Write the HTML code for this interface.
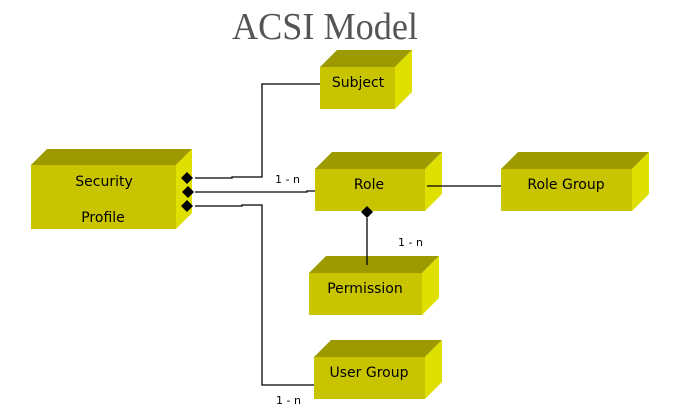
<!DOCTYPE html>
<html><head><style>html,body{margin:0;padding:0;background:#fff}svg{display:block}</style></head>
<body>
<svg width="683" height="416" xmlns="http://www.w3.org/2000/svg" font-family="DejaVu Sans, Liberation Sans, sans-serif" font-size="14">
<text x="325" y="39" text-anchor="middle" font-family="Liberation Serif, serif" font-size="38" fill="#555" textLength="186" lengthAdjust="spacingAndGlyphs">ACSI Model</text>
<g stroke="#000" stroke-width="1.3" fill="none">
<polyline points="195,178 232,178 232,177 262,177 262,84 320,84"/>
<polyline points="195,192 307,192 307,191 315,191"/>
<polyline points="195,206 242,206 242,205 262,205 262,385 314,385"/>
</g>
<g>
<polygon points="31,165 47,149 192,149 176,165" fill="#9c9a00"/>
<polygon points="176,165 192,149 192,213 176,229" fill="#e0e000"/>
<rect x="31" y="165" width="145" height="64" fill="#c8c400"/>

<polygon points="320,67 337,50 412,50 395,67" fill="#9c9a00"/>
<polygon points="395,67 412,50 412,92 395,109" fill="#e0e000"/>
<rect x="320" y="67" width="75" height="42" fill="#c8c400"/>

<polygon points="315,169 332,152 442,152 425,169" fill="#9c9a00"/>
<polygon points="425,169 442,152 442,194 425,211" fill="#e0e000"/>
<rect x="315" y="169" width="110" height="42" fill="#c8c400"/>

<polygon points="501,169 518,152 649,152 632,169" fill="#9c9a00"/>
<polygon points="632,169 649,152 649,194 632,211" fill="#e0e000"/>
<rect x="501" y="169" width="131" height="42" fill="#c8c400"/>

<polygon points="309,273 326,256 439,256 422,273" fill="#9c9a00"/>
<polygon points="422,273 439,256 439,298 422,315" fill="#e0e000"/>
<rect x="309" y="273" width="113" height="42" fill="#c8c400"/>

<polygon points="314,357 331,340 442,340 425,357" fill="#9c9a00"/>
<polygon points="425,357 442,340 442,382 425,399" fill="#e0e000"/>
<rect x="314" y="357" width="111" height="42" fill="#c8c400"/>
</g>
<g stroke="#000" stroke-width="1.3">
<line x1="427" y1="186" x2="501" y2="186"/>
<line x1="367" y1="218" x2="367" y2="265"/>
</g>
<g fill="#000">
<polygon points="181,178 187,172 193,178 187,184"/>
<polygon points="182,192 188,186 194,192 188,198"/>
<polygon points="181,206 187,200 193,206 187,212"/>
<polygon points="361,212 367,206 373,212 367,218"/>
</g>
<g fill="#000" text-anchor="middle">
<text x="104" y="186">Security</text>
<text x="103" y="222">Profile</text>
<text x="358" y="87">Subject</text>
<text x="369" y="189">Role</text>
<text x="566" y="189">Role Group</text>
<text x="365" y="293">Permission</text>
<text x="369" y="377">User Group</text>
</g>
<g fill="#000" font-size="11" font-family="DejaVu Sans, sans-serif">
<text x="275" y="183">1 - n</text>
<text x="398" y="246">1 - n</text>
<text x="276" y="404">1 - n</text>
</g>
</svg>
</body></html>
